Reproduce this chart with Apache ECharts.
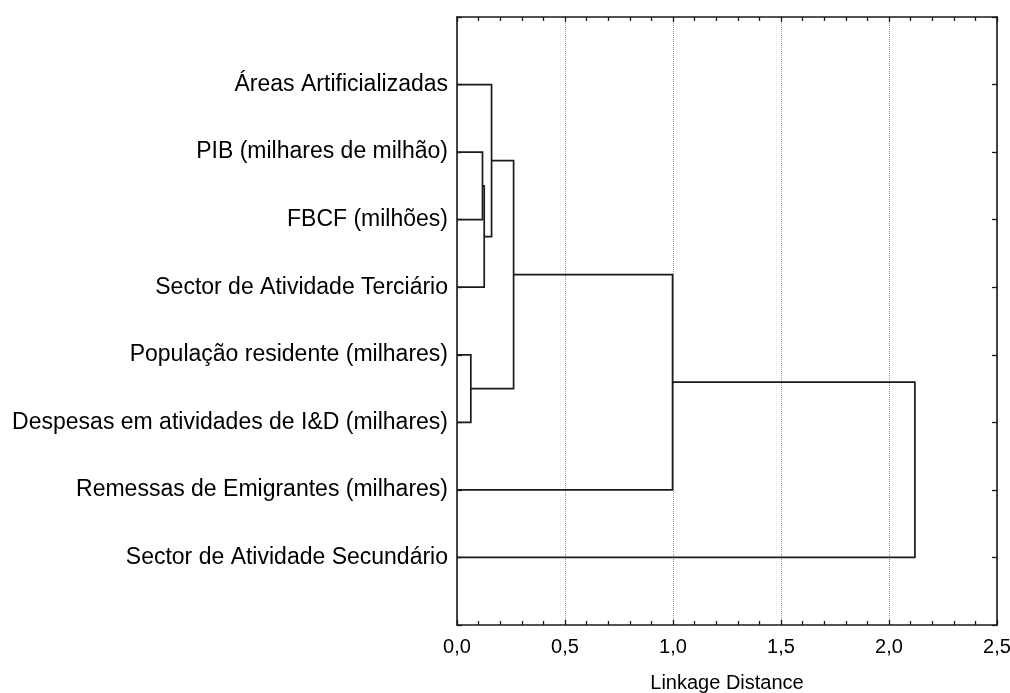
<!DOCTYPE html>
<html>
<head>
<meta charset="utf-8">
<script src="https://cdn.jsdelivr.net/npm/echarts@6/dist/echarts.min.js"></script>
<style>html,body{margin:0;padding:0;background:#fff}#c{width:1010px;height:693px}</style>
</head>
<body>
<div id="c"></div>
<script>
// Leaves, top to bottom
var leafNames = [
  'Áreas Artificializadas',
  'PIB (milhares de milhão)',
  'FBCF (milhões)',
  'Sector de Atividade Terciário',
  'População residente (milhares)',
  'Despesas em atividades de I&D (milhares)',
  'Remessas de Emigrantes (milhares)',
  'Sector de Atividade Secundário'
];
// Linkage: [childA, childB] (leaf index 0..7, merged clusters 8+), and linkage distances
var mergeA = [1, 8, 0, 4, 10, 12, 13];
var mergeB = [2, 3, 9, 5, 11, 6, 7];
var mergeHeight = [0.118, 0.126, 0.160, 0.064, 0.262, 0.998, 2.12];
var xAxisTitle = 'Linkage Distance';

// build node positions from the tree
var nodeY = [], nodeX = [];
leafNames.forEach(function (n, i) { nodeY.push(i + 1); nodeX.push(0); });
var links = [];
for (var k = 0; k < mergeA.length; k++) {
  var a = mergeA[k], b = mergeB[k], h = mergeHeight[k];
  links.push([nodeX[a], nodeY[a], nodeX[b], nodeY[b], h]);
  nodeX.push(h);
  nodeY.push((nodeY[a] + nodeY[b]) / 2);
}

var FONT = 'Liberation Sans, Arial, sans-serif';
var lineColor = '#1a1a1a';
function fmt(v) { return v.toFixed(1).replace('.', ','); }

var chart = echarts.init(document.getElementById('c'));
chart.setOption({
  animation: false,
  backgroundColor: '#fff',
  grid: { left: 457, right: 13, top: 17, bottom: 68, outerBoundsMode: 'none', containLabel: false },
  xAxis: [{
    type: 'value', position: 'bottom', min: 0, max: 2.5, interval: 0.5,
    name: xAxisTitle, nameLocation: 'middle', nameGap: 48,
    nameTextStyle: { color: '#000', fontSize: 20, fontFamily: FONT },
    axisLine: { show: true, onZero: false, lineStyle: { color: lineColor, width: 1.6 } },
    axisTick: { show: true, inside: true, length: 5, lineStyle: { color: lineColor, width: 1.3 } },
    minorTick: { show: true, splitNumber: 5, length: 4, lineStyle: { color: lineColor, width: 1.3 } },
    axisLabel: { formatter: fmt, color: '#000', fontSize: 20, fontFamily: FONT, margin: 12 },
    splitLine: { show: true, lineStyle: { type: 'dotted', color: '#999', width: 1 } }
  }, {
    type: 'value', position: 'top', min: 0, max: 2.5, interval: 0.5,
    axisLine: { show: true, onZero: false, lineStyle: { color: lineColor, width: 1.6 } },
    axisTick: { show: true, inside: true, length: 5, lineStyle: { color: lineColor, width: 1.3 } },
    minorTick: { show: true, splitNumber: 5, length: 4, lineStyle: { color: lineColor, width: 1.3 } },
    axisLabel: { show: false },
    splitLine: { show: false }
  }],
  yAxis: [{
    type: 'value', position: 'left', min: 0, max: 9, interval: 1, inverse: true,
    axisLine: { show: true, onZero: false, lineStyle: { color: lineColor, width: 1.6 } },
    axisTick: { show: true, inside: true, length: 5, lineStyle: { color: lineColor, width: 1.3 } },
    axisLabel: {
      color: '#000', fontSize: 23, fontFamily: FONT, margin: 9,
      formatter: function (v) { return (v >= 1 && v <= leafNames.length) ? leafNames[v - 1] : ''; }
    },
    splitLine: { show: false }
  }, {
    type: 'value', position: 'right', min: 0, max: 9, interval: 1, inverse: true,
    axisLine: { show: true, onZero: false, lineStyle: { color: lineColor, width: 1.6 } },
    axisTick: { show: true, inside: true, length: 5, lineStyle: { color: lineColor, width: 1.3 } },
    axisLabel: { show: false },
    splitLine: { show: false }
  }],
  series: [{
    type: 'custom',
    coordinateSystem: 'cartesian2d',
    xAxisIndex: 0, yAxisIndex: 0,
    encode: { x: [0, 2, 4], y: [1, 3] },
    data: links,
    renderItem: function (params, api) {
      var ax = api.value(0), ay = api.value(1), bx = api.value(2), by = api.value(3), h = api.value(4);
      var pts = [api.coord([ax, ay]), api.coord([h, ay]), api.coord([h, by]), api.coord([bx, by])];
      return {
        type: 'polyline',
        shape: { points: pts },
        style: { stroke: lineColor, lineWidth: 1.7, fill: null }
      };
    },
    z: 10
  }]
});
</script>
</body>
</html>
